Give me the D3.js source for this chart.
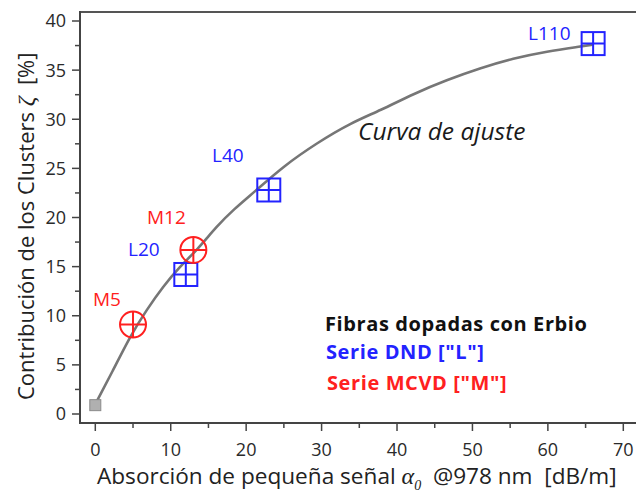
<!DOCTYPE html>
<html>
<head>
<meta charset="utf-8">
<script src="https://cdn.jsdelivr.net/npm/d3@7"></script>
<style>
  html, body { margin: 0; padding: 0; background: #fff; }
  svg { display: block; }
  text { font-family: "Open Sans", "DejaVu Sans", sans-serif; }
</style>
</head>
<body>
<svg id="chart" width="636" height="495"></svg>
<script>
// Samples: absorption α0 (dB/m) vs cluster contribution ζ (%)
const seriesL = [
  { name: "L20",  x: 12.0, y: 14.2 },
  { name: "L40",  x: 23.0, y: 22.8 },
  { name: "L110", x: 66.0, y: 37.7 }
];
const seriesM = [
  { name: "M5",  x: 5.0,  y: 9.1 },
  { name: "M12", x: 13.0, y: 16.7 }
];
const originPoint = [{ x: 0, y: 0.9 }];

// Fitted curve, sampled along its length
const fitX = [0, 2.4, 4.6, 6.8, 9.0, 11.2, 13.5, 16.1, 18.3, 21.4, 24.9, 29.4, 33.8, 37.8, 42.2, 46.6, 51.0, 55.4, 59.9, 64.3, 66.0];
const fitY = [1.0, 4.5, 7.9, 10.6, 13.0, 15.0, 16.7, 19.1, 20.8, 22.8, 25.2, 27.6, 29.6, 30.9, 32.6, 34.0, 35.2, 36.2, 36.9, 37.4, 37.6];

const xTicks = [0, 10, 20, 30, 40, 50, 60, 70];
const yTicks = [0, 5, 10, 15, 20, 25, 30, 35, 40];
const xMinor = [5, 15, 25, 35, 45, 55, 65];
const yMinor = [2.5, 7.5, 12.5, 17.5, 22.5, 27.5, 32.5, 37.5];

const blue = "#2323ff";
const red = "#ff2020";
const axisColor = "#444";

const svg = d3.select("#chart");
const x = d3.scaleLinear().domain([0, 70]).range([95.3, 623.3]);
const y = d3.scaleLinear().domain([0, 40]).range([414, 21]);

const axisX0 = 80, axisY0 = 423, topY = 12;

// Frame: left axis, bottom axis, top border
svg.append("line").attr("x1", axisX0).attr("x2", 636).attr("y1", topY).attr("y2", topY)
  .attr("stroke", "#555").attr("stroke-width", 2);
svg.append("line").attr("x1", axisX0).attr("x2", axisX0).attr("y1", topY - 1).attr("y2", axisY0 + 1)
  .attr("stroke", axisColor).attr("stroke-width", 2);
svg.append("line").attr("x1", axisX0 - 1).attr("x2", 636).attr("y1", axisY0).attr("y2", axisY0)
  .attr("stroke", axisColor).attr("stroke-width", 2);

// Y ticks
const gy = svg.append("g");
gy.selectAll("line.maj").data(yTicks).join("line")
  .attr("x1", axisX0 - 8).attr("x2", axisX0).attr("y1", d => y(d)).attr("y2", d => y(d))
  .attr("stroke", axisColor).attr("stroke-width", 1.5);
gy.selectAll("line.min").data(yMinor).join("line")
  .attr("x1", axisX0 - 5).attr("x2", axisX0).attr("y1", d => y(d)).attr("y2", d => y(d))
  .attr("stroke", axisColor).attr("stroke-width", 1.5);
gy.selectAll("text").data(yTicks).join("text")
  .attr("x", 66).attr("y", d => y(d)).attr("dy", "0.36em")
  .attr("text-anchor", "end").attr("font-size", 18).attr("fill", "#2a2a2a")
  .text(d => d);

// X ticks
const gx = svg.append("g");
gx.selectAll("line.maj").data(xTicks).join("line")
  .attr("x1", d => x(d)).attr("x2", d => x(d)).attr("y1", axisY0).attr("y2", axisY0 + 8)
  .attr("stroke", axisColor).attr("stroke-width", 1.5);
gx.selectAll("line.min").data(xMinor).join("line")
  .attr("x1", d => x(d)).attr("x2", d => x(d)).attr("y1", axisY0).attr("y2", axisY0 + 5)
  .attr("stroke", axisColor).attr("stroke-width", 1.5);
gx.selectAll("text").data(xTicks).join("text")
  .attr("x", d => x(d)).attr("y", 456)
  .attr("text-anchor", "middle").attr("font-size", 18).attr("fill", "#2a2a2a")
  .text(d => d);

// Axis titles
const xt = svg.append("text").attr("x", 97).attr("y", 484).attr("font-size", 22.6)
  .attr("fill", "#222").attr("xml:space", "preserve");
xt.append("tspan").text("Absorción de pequeña señal ");
xt.append("tspan").attr("font-family", "'Liberation Serif', serif").attr("font-style", "italic")
  .attr("font-size", 24).text("α");
xt.append("tspan").attr("font-family", "'Liberation Serif', serif").attr("font-style", "italic")
  .attr("font-size", 14).attr("dy", 6).text("0");
xt.append("tspan").attr("dy", -6).text("  @978 nm  [dB/m]");

const yt = svg.append("text").attr("transform", "translate(34,400) rotate(-90)")
  .attr("font-size", 22).attr("fill", "#222").attr("xml:space", "preserve");
yt.append("tspan").text("Contribución de los Clusters ");
yt.append("tspan").attr("font-family", "'Liberation Serif', serif").attr("font-style", "italic")
  .attr("font-size", 24).text("ζ");
yt.append("tspan").text("  [%]");

// Fit curve
const fit = fitX.map((d, i) => ({ x: d, y: fitY[i] }));
const fitLine = d3.line().x(d => x(d.x)).y(d => y(d.y)).curve(d3.curveBasis);
svg.append("path").datum(fit)
  .attr("d", fitLine)
  .attr("fill", "none").attr("stroke", "#767676").attr("stroke-width", 2.6);

svg.append("text").attr("x", 358).attr("y", 140)
  .attr("font-family", "'Liberation Sans', Arial, sans-serif").attr("font-style", "italic")
  .attr("font-size", 24.5).attr("fill", "#1a1a1a").text("Curva de ajuste");

// Origin marker
svg.selectAll("rect.origin").data(originPoint).join("rect")
  .attr("x", d => x(d.x) - 5.5).attr("y", d => y(d.y) - 5.5).attr("width", 11).attr("height", 11)
  .attr("fill", "#b0b0b0").attr("stroke", "#8a8a8a").attr("stroke-width", 1);

// L series: squares with cross
const sq = 11.5;
const gL = svg.selectAll("g.L").data(seriesL).join("g")
  .attr("transform", d => `translate(${x(d.x)},${y(d.y)})`);
gL.append("rect").attr("x", -sq).attr("y", -sq).attr("width", 2 * sq).attr("height", 2 * sq)
  .attr("fill", "none").attr("stroke", blue).attr("stroke-width", 2);
gL.append("path").attr("d", `M${-sq},0H${sq}M0,${-sq}V${sq}`)
  .attr("stroke", blue).attr("stroke-width", 2);

// M series: circles with cross
const r = 13;
const gM = svg.selectAll("g.M").data(seriesM).join("g")
  .attr("transform", d => `translate(${x(d.x)},${y(d.y)})`);
gM.append("circle").attr("r", r).attr("fill", "none").attr("stroke", red).attr("stroke-width", 2);
gM.append("path").attr("d", `M${-r},0H${r}M0,${-r}V${r}`)
  .attr("stroke", red).attr("stroke-width", 2);

// Point labels
const labelPos = {
  L20: [128, 256], L40: [212, 162], L110: [528, 40], M5: [93, 306], M12: [147, 224]
};
svg.selectAll("text.ptL").data(seriesL).join("text")
  .attr("x", d => labelPos[d.name][0]).attr("y", d => labelPos[d.name][1])
  .attr("font-size", 19).attr("fill", blue).text(d => d.name);
svg.selectAll("text.ptM").data(seriesM).join("text")
  .attr("x", d => labelPos[d.name][0]).attr("y", d => labelPos[d.name][1])
  .attr("font-size", 19).attr("fill", red).text(d => d.name);

// Legend block
const legend = svg.append("g").attr("font-size", 20).attr("font-weight", "bold").attr("letter-spacing", 0.6);
legend.append("text").attr("x", 325).attr("y", 331).attr("fill", "#111").text("Fibras dopadas con Erbio");
legend.append("text").attr("x", 326).attr("y", 359).attr("fill", blue).text('Serie DND ["L"]');
legend.append("text").attr("x", 327).attr("y", 390).attr("fill", red).text('Serie MCVD ["M"]');
</script>
</body>
</html>
